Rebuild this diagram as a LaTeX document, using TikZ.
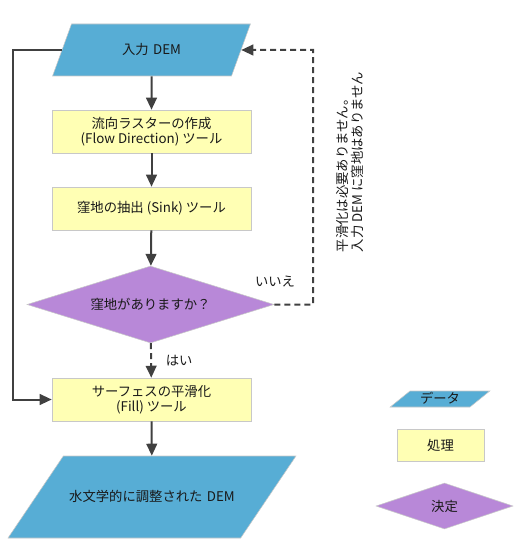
\documentclass[tikz,border=0pt]{standalone}
\usepackage{fontspec}
\setmainfont{Noto Sans CJK JP}
\usetikzlibrary{shapes.geometric}
\usetikzlibrary{arrows.meta}

\definecolor{datablue}{HTML}{57ADD5}
\definecolor{procyellow}{HTML}{FFFFB4}
\definecolor{decpurple}{HTML}{B888D8}
\definecolor{edgegray}{HTML}{C8C8C8}
\definecolor{linegray}{HTML}{404040}

\begin{document}
\begin{tikzpicture}[x=.75pt,y=-.75pt,
  every node/.style={font=\fontsize{10}{11.5}\selectfont, text=black!90},
  data/.style={trapezium, fill=datablue, draw=edgegray, inner sep=0pt, align=center},
  proc/.style={rectangle, fill=procyellow, draw=edgegray, minimum width=149.25pt, minimum height=32.25pt, inner sep=0pt, align=center},
  dec/.style={diamond, fill=decpurple, draw=edgegray, inner sep=0pt},
  flowline/.style={draw=linegray, line width=1.5pt, -{Triangle[length=9pt,width=8pt]}},
  dashline/.style={flowline, dash pattern=on 4.5pt off 3pt}]
\useasboundingbox (0,0) rectangle (518,556);

\node[data, trapezium left angle=70, trapezium right angle=110, text width=120pt, text height=22.8pt, text depth=16.2pt] (in) at (151.5,50) {入力 DEM};
\node[proc] (flowdir) at (151.5,131.5) {流向ラスターの作成\\(Flow Direction) ツール};
\node[proc] (sink) at (151.5,208.5) {窪地の抽出 (Sink) ツール};
\node[dec, aspect=3.2, minimum width=185.25pt, minimum height=57.75pt] (issink) at (150.5,304.5) {窪地がありますか？};
\node[proc] (fill) at (151.5,399.5) {サーフェスの平滑化\\(Fill) ツール};
\node[data, trapezium left angle=56, trapezium right angle=124, text width=133pt, text height=34pt, text depth=27.5pt] (out) at (152,497) {水文学的に調整された DEM};

\coordinate (nr) at (313,50);
\coordinate (nl) at (13,50);

\draw[flowline] (in) -- (flowdir);
\draw[flowline] (flowdir) -- (sink);
\draw[flowline] (sink) -- (issink);
\draw[dashline] (issink) -- node[right=7pt] (yes) {はい} (fill);
\draw[flowline] (fill) -- (out);
\draw[dashline] (issink.east) -| (nr) -- (in);
\draw[flowline] (in) -- (nl) |- (fill);

\node (no) at (275,282) {いいえ};
\node[rotate=90, align=left] (note) at (350,162) {平滑化は必要ありません。\\入力 DEM に窪地はありません};

\node[data, trapezium left angle=39, trapezium right angle=141, text width=45pt, text height=9.3pt, text depth=2.7pt] (keydata) at (440,399) {データ};
\node[proc, minimum width=65.25pt, minimum height=24pt] (keyproc) at (440.5,445) {処理};
\node[dec, aspect=3, minimum width=102.75pt, minimum height=34.5pt] (keydec) at (444.5,506) {決定};
\end{tikzpicture}
\end{document}
